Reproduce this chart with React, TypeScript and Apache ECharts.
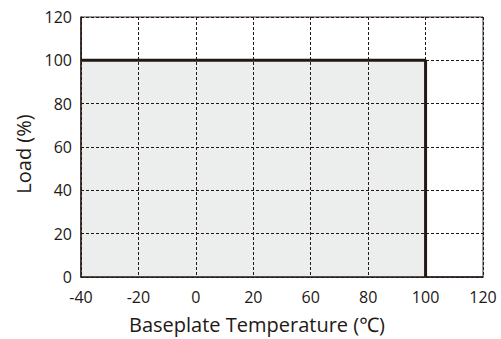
import React, { useEffect, useRef } from "react";
import * as echarts from "echarts";

const xLabels = ["-40", "-20", "0", "20", "60", "80", "100", "120"];
const yTicks = [0, 20, 40, 60, 80, 100, 120];
// derating curve: [category index, load %]
const curveX = [0, 6, 6];
const curveY = [100, 100, 0];

export default function App() {
  const ref = useRef<HTMLDivElement>(null);
  useEffect(() => {
    document.body.style.margin = "0";
    const chart = echarts.init(ref.current!, null, { renderer: "svg" });
    const font = "'Open Sans', 'Noto Sans', sans-serif";
    chart.setOption({
      animation: false,
      backgroundColor: "#ffffff",
      grid: {
        left: 81,
        right: 18,
        top: 17,
        bottom: 61,
        show: true,
        borderColor: "#3a3230",
        borderWidth: 1,
        containLabel: false,
      },
      xAxis: {
        type: "category",
        data: xLabels,
        boundaryGap: false,
        z: 4,
        name: "Baseplate Temperature (℃)",
        nameLocation: "middle",
        nameGap: 37,
        nameTextStyle: { fontSize: 20, color: "#231815", fontFamily: font, padding: [0, 50, 0, 0] },
        axisLine: { show: true, lineStyle: { color: "#231815", width: 1.5 } },
        axisTick: { show: false },
        axisLabel: { fontSize: 16, color: "#231815", margin: 12, fontFamily: font },
        splitLine: { show: true, lineStyle: { type: [3, 2], color: "#231815", width: 1 } },
      },
      yAxis: {
        type: "value",
        min: yTicks[0],
        max: yTicks[yTicks.length - 1],
        interval: 20,
        z: 4,
        name: "Load (%)",
        nameLocation: "middle",
        nameGap: 48,
        nameTextStyle: { fontSize: 20, color: "#231815", fontFamily: font, padding: [0, 0, 0, -14] },
        axisLine: { show: true, lineStyle: { color: "#231815", width: 1.5 } },
        axisTick: { show: false },
        axisLabel: { fontSize: 16, color: "#231815", margin: 9, fontFamily: font },
        splitLine: { show: true, lineStyle: { type: [3, 2], color: "#231815", width: 1 } },
      },
      series: [
        {
          type: "line",
          data: curveX.map((x, i) => [x, curveY[i]]),
          showSymbol: false,
          symbol: "none",
          lineStyle: { color: "#231815", width: 3 },
          areaStyle: { color: "#eceeed", opacity: 1 },
          z: 2,
        },
      ],
    });
    return () => chart.dispose();
  }, []);
  return <div ref={ref} style={{ width: 501, height: 339 }} />;
}
